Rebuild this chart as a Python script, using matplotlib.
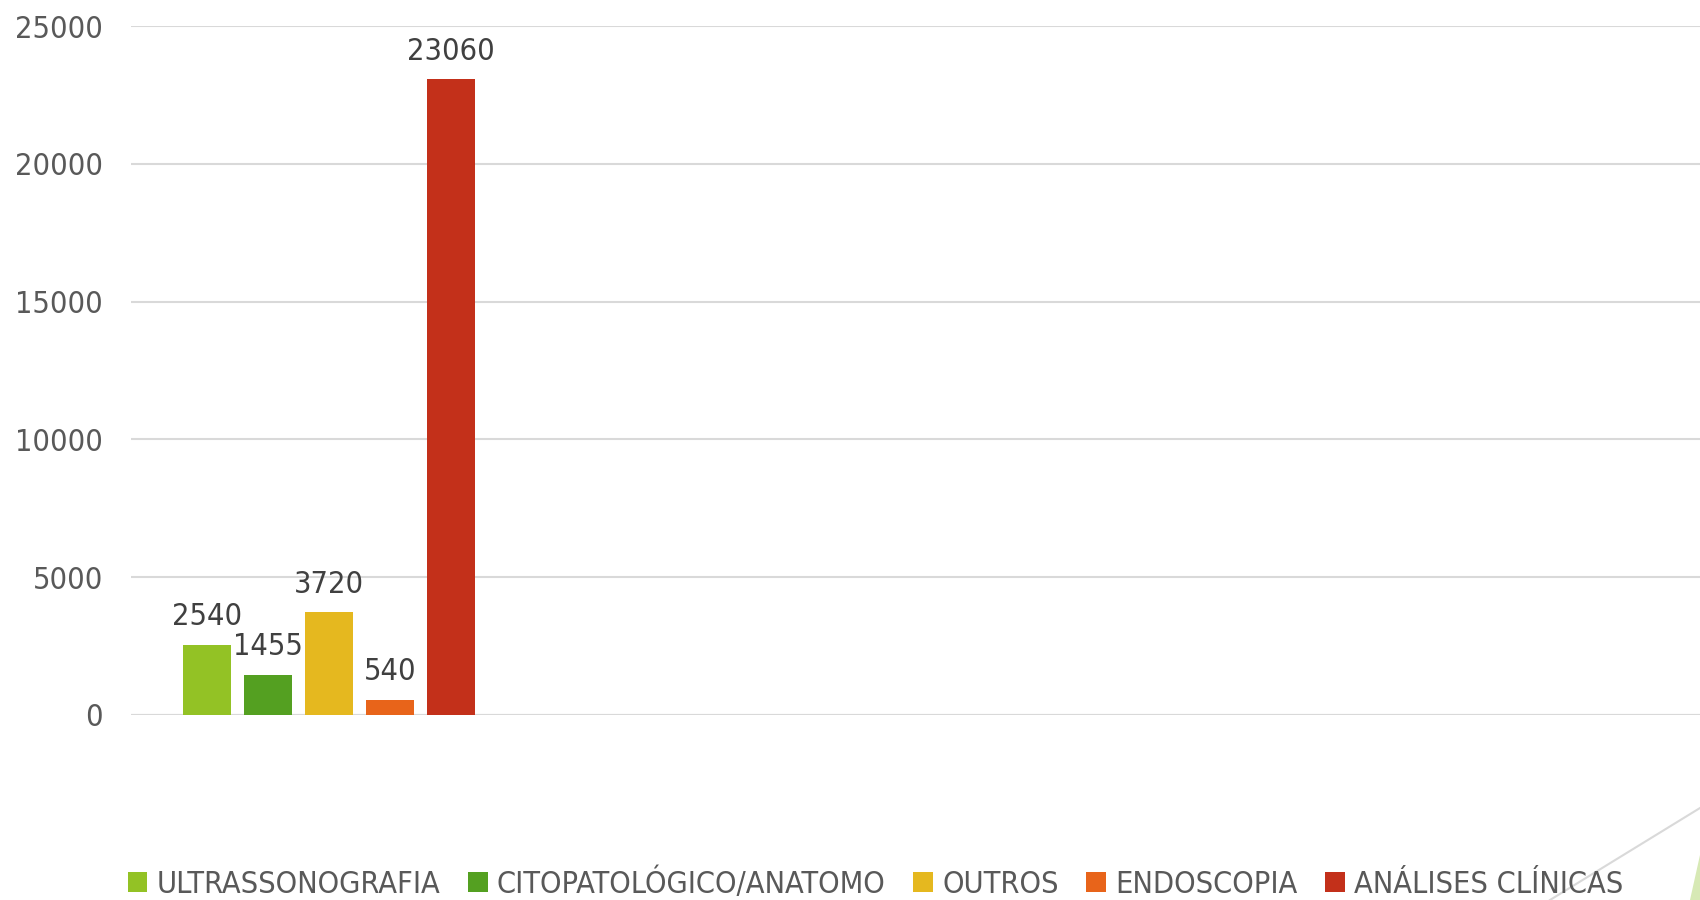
import matplotlib
matplotlib.use("Agg")
import matplotlib.pyplot as plt
from matplotlib.patches import Polygon, Patch
from matplotlib.lines import Line2D

categories = ["ULTRASSONOGRAFIA", "CITOPATOLÓGICO/ANATOMO", "OUTROS", "ENDOSCOPIA", "ANÁLISES CLÍNICAS"]
values = [2540, 1455, 3720, 540, 23060]
colors = ["#93C225", "#54A021", "#E5B81F", "#E8641A", "#C3301A"]
yticks = [0, 5000, 10000, 15000, 20000, 25000]

plt.rcParams['font.family'] = ['DejaVu Sans']
plt.rcParams['font.stretch'] = 'condensed'
W, H = 1700, 900
fig = plt.figure(figsize=(W / 100, H / 100), dpi=100)
ax = fig.add_axes([131 / W, 1 - 715 / H, 1 - 131 / W, (715 - 26) / H])

xs = list(range(len(values)))
bars = ax.bar(xs, values, width=0.79, color=colors, zorder=3)
for x, v in zip(xs, values):
    ax.annotate(str(v), (x, v), xytext=(0, 10), textcoords="offset points",
                ha="center", va="bottom", fontsize=22, color="#404040",
                fontstretch="condensed", zorder=4)

ax.set_ylim(0, 25000)
ax.set_xlim(-1.246, -1.246 + 1569 / 61)
ax.set_yticks(yticks)
ax.set_yticklabels([str(t) for t in yticks], fontsize=22, color="#595959",
                   fontstretch="condensed")
ax.tick_params(axis="y", length=0, pad=20)
ax.set_xticks([])
ax.grid(axis="y", color="#D9D9D9", linewidth=1.5, zorder=0)
for s in ax.spines.values():
    s.set_visible(False)
ax.axhline(0, color="#D9D9D9", linewidth=1.5, zorder=2)

handles = [Patch(facecolor=c, edgecolor="none") for c in colors]
leg = fig.legend(handles, categories, loc="lower left", bbox_to_anchor=(100 / W, -0.029),
                 ncol=5, frameon=False, handlelength=0.65, handleheight=0.65,
                 handletextpad=0.3, columnspacing=0.9, labelcolor="#595959",
                 prop={"size": 22, "stretch": "condensed"})

# decorative corner elements
fig.add_artist(Line2D([1.0, 1550 / W], [1 - 808 / H, 0.0], transform=fig.transFigure,
                      color="#D9D9D9", linewidth=1.5))
fig.add_artist(Polygon([[1.0, 1 - 855 / H], [1.0, 0.0], [1690 / W, 0.0]],
                       closed=True, transform=fig.transFigure, facecolor="#D7E9B5", edgecolor="none"))

fig.savefig("out.png", dpi=100)
